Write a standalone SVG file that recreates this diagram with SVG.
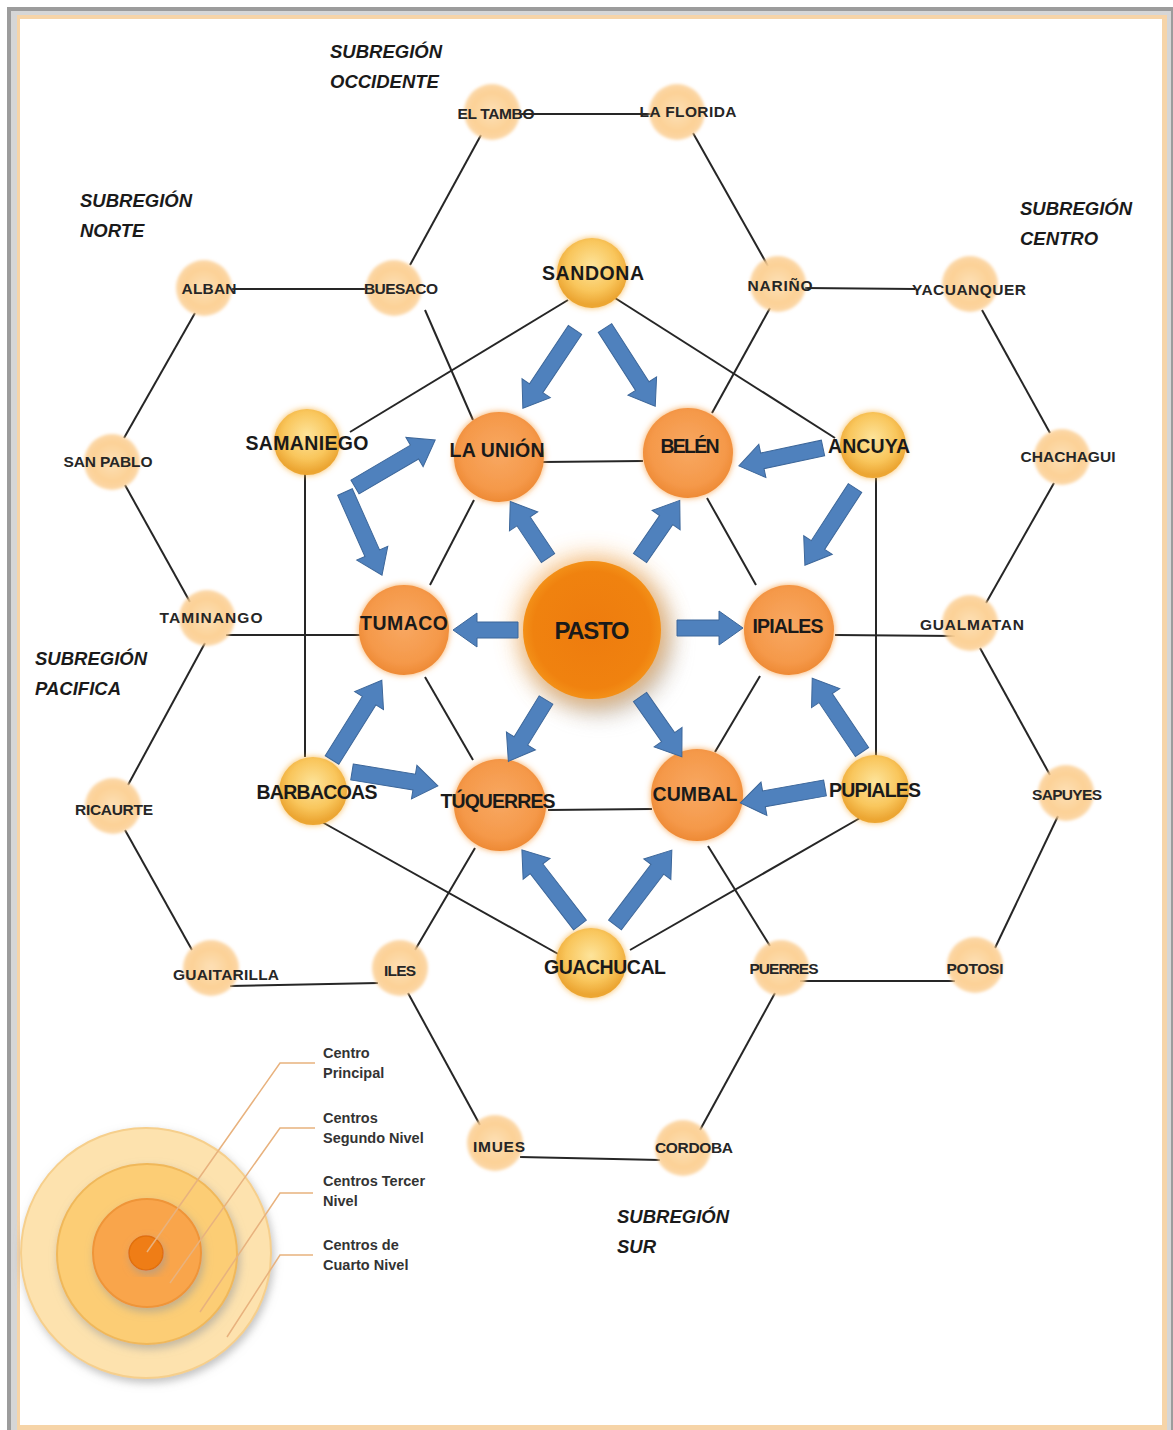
<svg xmlns="http://www.w3.org/2000/svg" width="1173" height="1430" viewBox="0 0 1173 1430">
<defs>
<style>
.ln{stroke:#262626;stroke-width:2;fill:none}
.arr{fill:#4f81bd;stroke:#3d679a;stroke-width:1}
.t4{font-family:"Liberation Sans",Arial,sans-serif;font-weight:bold;font-size:15.5px;fill:#262626;text-anchor:middle}
.t3{font-family:"Liberation Sans",Arial,sans-serif;font-weight:bold;font-size:19.5px;fill:#1a1a1a;text-anchor:middle}
.tp{font-family:"Liberation Sans",Arial,sans-serif;font-weight:bold;font-size:24px;fill:#1a1a1a;text-anchor:middle}
.sub{font-family:"Liberation Sans",Arial,sans-serif;font-weight:bold;font-style:italic;font-size:18.5px;fill:#1a1a1a}
.leg{font-family:"Liberation Sans",Arial,sans-serif;font-weight:bold;font-size:14.5px;fill:#333}
.lead{stroke:#e8b27e;stroke-width:1.5;fill:none}
.n4{fill:url(#g4);filter:url(#glow4)}
.n3{fill:url(#g3);filter:url(#glow3)}
.n2{fill:url(#g2);filter:url(#glow2)}
</style>
<radialGradient id="g4" cx="50%" cy="50%" r="50%">
<stop offset="0" stop-color="#fde0b6"/>
<stop offset="0.7" stop-color="#fcd196"/>
<stop offset="1" stop-color="#fbcb8c" stop-opacity="0.75"/>
</radialGradient>
<radialGradient id="g3" cx="50%" cy="40%" r="55%">
<stop offset="0" stop-color="#fde49b"/>
<stop offset="0.65" stop-color="#f9c65c"/>
<stop offset="1" stop-color="#eca633"/>
</radialGradient>
<radialGradient id="g2" cx="50%" cy="45%" r="55%">
<stop offset="0" stop-color="#f8a862"/>
<stop offset="0.75" stop-color="#f5994a"/>
<stop offset="1" stop-color="#ee8a35"/>
</radialGradient>
<radialGradient id="gp" cx="50%" cy="50%" r="50%">
<stop offset="0" stop-color="#ee7c0e"/>
<stop offset="0.85" stop-color="#f0820f"/>
<stop offset="1" stop-color="#f39018"/>
</radialGradient>
<filter id="glow4" x="-30%" y="-30%" width="160%" height="160%">
<feGaussianBlur stdDeviation="1.6"/>
</filter>
<filter id="glow3" x="-30%" y="-30%" width="160%" height="160%">
<feDropShadow dx="0" dy="0" stdDeviation="3" flood-color="#f7b548" flood-opacity="0.9"/>
</filter>
<filter id="glow2" x="-30%" y="-30%" width="160%" height="160%">
<feDropShadow dx="0" dy="0" stdDeviation="3" flood-color="#f7a04a" flood-opacity="0.9"/>
</filter>
<filter id="pshadow" x="-50%" y="-50%" width="200%" height="200%">
<feGaussianBlur stdDeviation="12"/>
</filter>
<filter id="legsh" x="-20%" y="-20%" width="140%" height="140%">
<feDropShadow dx="2" dy="4" stdDeviation="4" flood-color="#999" flood-opacity="0.6"/>
</filter>
</defs>

<g id="frame">
<rect x="7" y="7" width="1175" height="1430" fill="#9c9c9c"/>
<rect x="11" y="11" width="1160" height="1425" fill="#d6d6d6"/>
<rect x="17" y="15" width="1150" height="1420" fill="#f6d4a8"/>
<rect x="20" y="19" width="1142" height="1406" fill="#ffffff"/>
</g>

<g id="connectors">
<line class="ln" x1="520" y1="114" x2="660" y2="114"/>
<line class="ln" x1="481" y1="135" x2="410" y2="265"/>
<line class="ln" x1="693" y1="133" x2="768" y2="266"/>
<line class="ln" x1="232" y1="289" x2="365" y2="289"/>
<line class="ln" x1="805" y1="288" x2="915" y2="289"/>
<line class="ln" x1="195" y1="313" x2="124" y2="438"/>
<line class="ln" x1="982" y1="310" x2="1050" y2="433"/>
<line class="ln" x1="125" y1="485" x2="190" y2="602"/>
<line class="ln" x1="1054" y1="483" x2="986" y2="603"/>
<line class="ln" x1="226" y1="635" x2="360" y2="635"/>
<line class="ln" x1="835" y1="635" x2="955" y2="636"/>
<line class="ln" x1="205" y1="643" x2="128" y2="785"/>
<line class="ln" x1="980" y1="648" x2="1050" y2="775"/>
<line class="ln" x1="125" y1="830" x2="192" y2="950"/>
<line class="ln" x1="1058" y1="816" x2="995" y2="948"/>
<line class="ln" x1="230" y1="986" x2="378" y2="983"/>
<line class="ln" x1="800" y1="981" x2="955" y2="981"/>
<line class="ln" x1="408" y1="993" x2="480" y2="1125"/>
<line class="ln" x1="775" y1="993" x2="700" y2="1130"/>
<line class="ln" x1="520" y1="1157" x2="660" y2="1160"/>
<line class="ln" x1="425" y1="310" x2="473" y2="420"/>
<line class="ln" x1="770" y1="308" x2="712" y2="413"/>
<line class="ln" x1="415" y1="950" x2="475" y2="848"/>
<line class="ln" x1="770" y1="946" x2="708" y2="846"/>
<line class="ln" x1="568" y1="300" x2="350" y2="432"/>
<line class="ln" x1="615" y1="298" x2="835" y2="438"/>
<line class="ln" x1="305" y1="473" x2="305" y2="757"/>
<line class="ln" x1="876" y1="478" x2="876" y2="757"/>
<line class="ln" x1="322" y1="822" x2="560" y2="955"/>
<line class="ln" x1="860" y1="818" x2="630" y2="950"/>
<line class="ln" x1="543" y1="462" x2="643" y2="461"/>
<line class="ln" x1="474" y1="500" x2="430" y2="585"/>
<line class="ln" x1="707" y1="498" x2="756" y2="585"/>
<line class="ln" x1="425" y1="677" x2="473" y2="760"/>
<line class="ln" x1="760" y1="676" x2="715" y2="752"/>
<line class="ln" x1="548" y1="810" x2="652" y2="809"/>
</g>

<!-- fourth level nodes -->
<g id="el-tambo"><circle class="n4" cx="492" cy="112" r="28"/><text class="t4" x="496" y="119" textLength="77">EL TAMBO</text></g>
<g id="la-florida"><circle class="n4" cx="677" cy="112" r="28"/><text class="t4" x="688" y="117" textLength="97">LA FLORIDA</text></g>
<g id="alban"><circle class="n4" cx="204" cy="288" r="28"/><text class="t4" x="209" y="294" textLength="55">ALBAN</text></g>
<g id="buesaco"><circle class="n4" cx="394" cy="288" r="28"/><text class="t4" x="401" y="294" textLength="74">BUESACO</text></g>
<g id="narino"><circle class="n4" cx="778" cy="284" r="28"/><text class="t4" x="780" y="291" textLength="65">NARIÑO</text></g>
<g id="yacuanquer"><circle class="n4" cx="970" cy="284" r="28"/><text class="t4" x="969" y="295" textLength="114">YACUANQUER</text></g>
<g id="san-pablo"><circle class="n4" cx="112" cy="462" r="28"/><text class="t4" x="108" y="467" textLength="89">SAN PABLO</text></g>
<g id="chachagui"><circle class="n4" cx="1062" cy="457" r="28"/><text class="t4" x="1068" y="462" textLength="95">CHACHAGUI</text></g>
<g id="taminango"><circle class="n4" cx="207" cy="618" r="28"/><text class="t4" x="211" y="623" textLength="103">TAMINANGO</text></g>
<g id="gualmatan"><circle class="n4" cx="970" cy="623" r="28"/><text class="t4" x="972" y="630" textLength="104">GUALMATAN</text></g>
<g id="ricaurte"><circle class="n4" cx="113" cy="806" r="28"/><text class="t4" x="114" y="815" textLength="78">RICAURTE</text></g>
<g id="sapuyes"><circle class="n4" cx="1066" cy="793" r="28"/><text class="t4" x="1067" y="800" textLength="70">SAPUYES</text></g>
<g id="guaitarilla"><circle class="n4" cx="211" cy="968" r="28"/><text class="t4" x="226" y="980" textLength="106">GUAITARILLA</text></g>
<g id="iles"><circle class="n4" cx="400" cy="968" r="28"/><text class="t4" x="400" y="976" textLength="32">ILES</text></g>
<g id="puerres"><circle class="n4" cx="781" cy="968" r="28"/><text class="t4" x="784" y="974" textLength="69">PUERRES</text></g>
<g id="potosi"><circle class="n4" cx="975" cy="965" r="28"/><text class="t4" x="975" y="974" textLength="57">POTOSI</text></g>
<g id="imues"><circle class="n4" cx="495" cy="1143" r="28"/><text class="t4" x="499" y="1152" textLength="52">IMUES</text></g>
<g id="cordoba"><circle class="n4" cx="683" cy="1148" r="28"/><text class="t4" x="694" y="1153" textLength="78">CORDOBA</text></g>

<!-- third level nodes -->
<g id="sandona"><circle class="n3" cx="592" cy="273" r="35"/><text class="t3" x="593" y="280" textLength="102">SANDONA</text></g>
<g id="samaniego"><circle class="n3" cx="307" cy="442" r="33"/><text class="t3" x="307" y="450" textLength="123">SAMANIEGO</text></g>
<g id="ancuya"><circle class="n3" cx="873" cy="445" r="33"/><text class="t3" x="869" y="453" textLength="82">ANCUYA</text></g>
<g id="barbacoas"><circle class="n3" cx="313" cy="791" r="34"/><text class="t3" x="317" y="799" textLength="121">BARBACOAS</text></g>
<g id="pupiales"><circle class="n3" cx="875" cy="789" r="34"/><text class="t3" x="875" y="797" textLength="92">PUPIALES</text></g>
<g id="guachucal"><circle class="n3" cx="591" cy="963" r="35"/><text class="t3" x="605" y="974" textLength="122">GUACHUCAL</text></g>

<!-- second level nodes -->
<g id="la-union"><circle class="n2" cx="499" cy="457" r="45"/><text class="t3" x="497" y="457" textLength="95">LA UNIÓN</text></g>
<g id="belen"><circle class="n2" cx="688" cy="453" r="45"/><text class="t3" x="690" y="453" textLength="59">BELÉN</text></g>
<g id="tumaco"><circle class="n2" cx="404" cy="630" r="45"/><text class="t3" x="404" y="630" textLength="88">TUMACO</text></g>
<g id="ipiales"><circle class="n2" cx="789" cy="630" r="45"/><text class="t3" x="788" y="633" textLength="71">IPIALES</text></g>
<g id="tuquerres"><circle class="n2" cx="500" cy="805" r="46"/><text class="t3" x="498" y="808" textLength="115">TÚQUERRES</text></g>
<g id="cumbal"><circle class="n2" cx="697" cy="795" r="46"/><text class="t3" x="695" y="801" textLength="85">CUMBAL</text></g>

<!-- main centre -->
<g id="pasto">
<circle cx="600" cy="642" r="70" fill="#8a8a8a" opacity="0.55" filter="url(#pshadow)"/>
<circle cx="592" cy="630" r="74" fill="#f7a64a" opacity="0.7" filter="url(#pshadow)"/>
<circle cx="592" cy="630" r="69" fill="url(#gp)"/>
<text class="tp" x="592" y="639" textLength="75">PASTO</text>
</g>

<g id="arrows">
<path class="arr" transform="translate(548,558) rotate(-123.7)" d="M0,-8 L44,-8 L44,-17 L68,0 L44,17 L44,8 L0,8 Z"/>
<path class="arr" transform="translate(640,558) rotate(-55.4)" d="M0,-8 L46,-8 L46,-17 L70,0 L46,17 L46,8 L0,8 Z"/>
<path class="arr" transform="translate(518,630) rotate(180)" d="M0,-8 L41,-8 L41,-17 L65,0 L41,17 L41,8 L0,8 Z"/>
<path class="arr" transform="translate(677,628) rotate(0)" d="M0,-8 L42,-8 L42,-17 L66,0 L42,17 L42,8 L0,8 Z"/>
<path class="arr" transform="translate(546,700) rotate(121.5)" d="M0,-8 L48,-8 L48,-17 L72,0 L48,17 L48,8 L0,8 Z"/>
<path class="arr" transform="translate(640,697) rotate(55)" d="M0,-8 L49,-8 L49,-17 L73,0 L49,17 L49,8 L0,8 Z"/>
<path class="arr" transform="translate(575,330) rotate(123.7)" d="M0,-8 L70,-8 L70,-17 L94,0 L70,17 L70,8 L0,8 Z"/>
<path class="arr" transform="translate(605,328) rotate(57.3)" d="M0,-8 L69,-8 L69,-17 L93,0 L69,17 L69,8 L0,8 Z"/>
<path class="arr" transform="translate(823,448) rotate(168)" d="M0,-8 L62,-8 L62,-17 L86,0 L62,17 L62,8 L0,8 Z"/>
<path class="arr" transform="translate(855,488) rotate(123)" d="M0,-8 L68,-8 L68,-17 L92,0 L68,17 L68,8 L0,8 Z"/>
<path class="arr" transform="translate(355,487) rotate(-30.4)" d="M0,-8 L69,-8 L69,-17 L93,0 L69,17 L69,8 L0,8 Z"/>
<path class="arr" transform="translate(345,492) rotate(66)" d="M0,-8 L67,-8 L67,-17 L91,0 L67,17 L67,8 L0,8 Z"/>
<path class="arr" transform="translate(332,760) rotate(-58)" d="M0,-8 L70,-8 L70,-17 L94,0 L70,17 L70,8 L0,8 Z"/>
<path class="arr" transform="translate(352,772) rotate(9.2)" d="M0,-8 L63,-8 L63,-17 L87,0 L63,17 L63,8 L0,8 Z"/>
<path class="arr" transform="translate(862,752) rotate(-124)" d="M0,-8 L65,-8 L65,-17 L89,0 L65,17 L65,8 L0,8 Z"/>
<path class="arr" transform="translate(825,788) rotate(170)" d="M0,-8 L62,-8 L62,-17 L86,0 L62,17 L62,8 L0,8 Z"/>
<path class="arr" transform="translate(580,925) rotate(-127.7)" d="M0,-8 L71,-8 L71,-17 L95,0 L71,17 L71,8 L0,8 Z"/>
<path class="arr" transform="translate(615,925) rotate(-52.8)" d="M0,-8 L70,-8 L70,-17 L94,0 L70,17 L70,8 L0,8 Z"/>
</g>

<g id="subregions">
<text class="sub" x="330" y="58">SUBREGIÓN</text><text class="sub" x="330" y="88">OCCIDENTE</text>
<text class="sub" x="80" y="207">SUBREGIÓN</text><text class="sub" x="80" y="237">NORTE</text>
<text class="sub" x="1020" y="215">SUBREGIÓN</text><text class="sub" x="1020" y="245">CENTRO</text>
<text class="sub" x="35" y="665">SUBREGIÓN</text><text class="sub" x="35" y="695">PACIFICA</text>
<text class="sub" x="617" y="1223">SUBREGIÓN</text><text class="sub" x="617" y="1253">SUR</text>
</g>

<g id="legend">
<circle cx="146" cy="1253" r="125" fill="#fde2ae" stroke="#f6cf8c" stroke-width="2" filter="url(#legsh)"/>
<circle cx="147" cy="1254" r="90" fill="#fccd74" stroke="#f0b85a" stroke-width="2" filter="url(#legsh)"/>
<circle cx="147" cy="1253" r="54" fill="#f9a54c" stroke="#ef9538" stroke-width="2" filter="url(#legsh)"/>
<circle cx="146" cy="1253" r="17" fill="#ef7d12" stroke="#e07010" stroke-width="1.5" filter="url(#legsh)"/>
<polyline class="lead" points="147,1252 280,1063 315,1063"/>
<polyline class="lead" points="170,1283 280,1128 315,1128"/>
<polyline class="lead" points="200,1312 280,1193 313,1193"/>
<polyline class="lead" points="227,1337 280,1255 313,1255"/>
<text class="leg" x="323" y="1058">Centro</text><text class="leg" x="323" y="1078">Principal</text>
<text class="leg" x="323" y="1123">Centros</text><text class="leg" x="323" y="1143">Segundo Nivel</text>
<text class="leg" x="323" y="1186">Centros Tercer</text><text class="leg" x="323" y="1206">Nivel</text>
<text class="leg" x="323" y="1250">Centros de</text><text class="leg" x="323" y="1270">Cuarto Nivel</text>
</g>
</svg>
